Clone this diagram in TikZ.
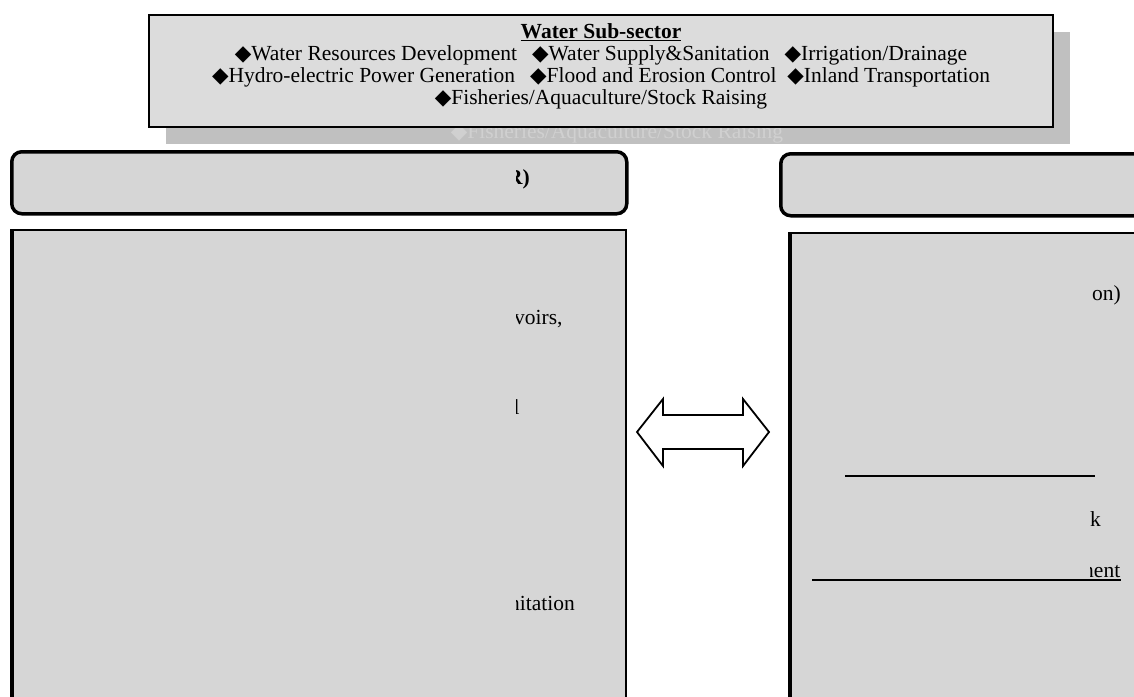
\documentclass[tikz,border=0pt]{standalone}
\usepackage{fontspec}
\setmainfont{Liberation Serif}
\newfontfamily\symfont{DejaVu Sans}
\usetikzlibrary{shapes,arrows,calc,positioning,shadows}
\definecolor{redact}{HTML}{D6D6D6}
\definecolor{boxgrey}{HTML}{DCDCDC}
\definecolor{shadowgrey}{HTML}{C0C0C0}
\definecolor{ghostgrey}{HTML}{D0D0D0}
\newcommand{\dia}{{\symfont\char"25C6}}
\newcommand{\bodyfont}{\fontsize{21.5}{22}\selectfont}
\tikzstyle{sector} = [rectangle, draw, line width=2pt, fill=boxgrey, anchor=north west,
    minimum width=904pt, minimum height=112pt,
    drop shadow={shadow xshift=17pt, shadow yshift=-17pt, fill=shadowgrey, opacity=1}]
\tikzstyle{header} = [rectangle, draw, line width=3.5pt, rounded corners=10pt, fill=redact,
    minimum height=62pt, anchor=north west]
\tikzstyle{body} = [rectangle, draw, line width=2pt, fill=redact, minimum height=500pt, anchor=north west]
\tikzstyle{frag} = [anchor=mid west, inner sep=0pt, font=\bodyfont]
\tikzstyle{rule} = [draw, line width=1.5pt]
\tikzset{uncover/.style={path picture={\fill[boxgrey] (#1,0) rectangle (1200,760);}}}

\begin{document}
\begin{tikzpicture}[x=1pt, y=-1pt]
    \useasboundingbox (0,0) rectangle (1134,696);
    % Place nodes
    \node [sector] (sector) at (148,14) {};
    \node [align=center, font=\bodyfont, inner sep=0pt] (subsectors) at ($(sector.center)+(0,-5)$)
        {\textbf{\underline{Water Sub-sector}}\\
         \dia Water Resources Development\hspace{.7em}\dia Water Supply\&Sanitation\hspace{.7em}\dia Irrigation/Drainage\\
         \dia Hydro-electric Power Generation\hspace{.7em}\dia Flood and Erosion Control\hspace{.5em}\dia Inland Transportation\\
         \dia Fisheries/Aquaculture/Stock Raising};
    \begin{scope}
        \clip (150,128) rectangle (1134,143);
        \node [align=center, font=\bodyfont, inner sep=0pt, text=ghostgrey, anchor=base]
            (ghost) at ($(subsectors.base)+(16,34)$) {\dia Fisheries/Aquaculture/Stock Raising};
    \end{scope}

    \node [header, uncover=516, minimum width=615pt] (lefthead) at (10,150) {};
    \node [body, uncover=516, minimum width=613pt] (leftbody) at (12,229) {};
    \node [header, uncover=1090, minimum width=400pt] (righthead) at (779,152) {};
    \node [body, uncover=1090, minimum width=400pt] (rightbody) at (790,232) {};
    \draw [line width=3.5pt] (leftbody.north west) -- (leftbody.south west);
    \draw [line width=3.5pt] (rightbody.north west) -- (rightbody.south west);

    % Text left over in the columns
    \begin{scope}
        \clip (516,140) rectangle (640,700);
        \node [frag] (lefttitle) at (507,182) {\textbf{R)}};
        \node [frag] (reservoirs) at (514,322) {voirs,};
        \node [frag] (leftl) at (513.5,412) {l};
        \node [frag] (sanitation) at (509,608) {nitation};
    \end{scope}
    \begin{scope}
        \clip (1090,140) rectangle (1134,700);
        \node [frag] (rightparen) at (1092,298) {on)};
        \node [frag] (rightk) at (1090,524) {k};
        \node [frag] (rightment) at (1083,575) {nent};
    \end{scope}
    \coordinate (ruleA) at (845,476);
    \coordinate (ruleB) at (812,580);
    \path [rule] (ruleA) -- ++(250,0);
    \path [rule] (ruleB) -- ++(309,0);

    % Draw the two-way arrow between the columns
    \coordinate (link) at (703,432);
    \draw [shift={(link)}, line width=1.8pt, fill=white, line join=miter]
        (-66,0) -- (-40,-33) -- (-40,-17) -- (40,-17) -- (40,-33) -- (66,0)
        -- (40,34) -- (40,17) -- (-40,17) -- (-40,34) -- cycle;
\end{tikzpicture}
\end{document}
